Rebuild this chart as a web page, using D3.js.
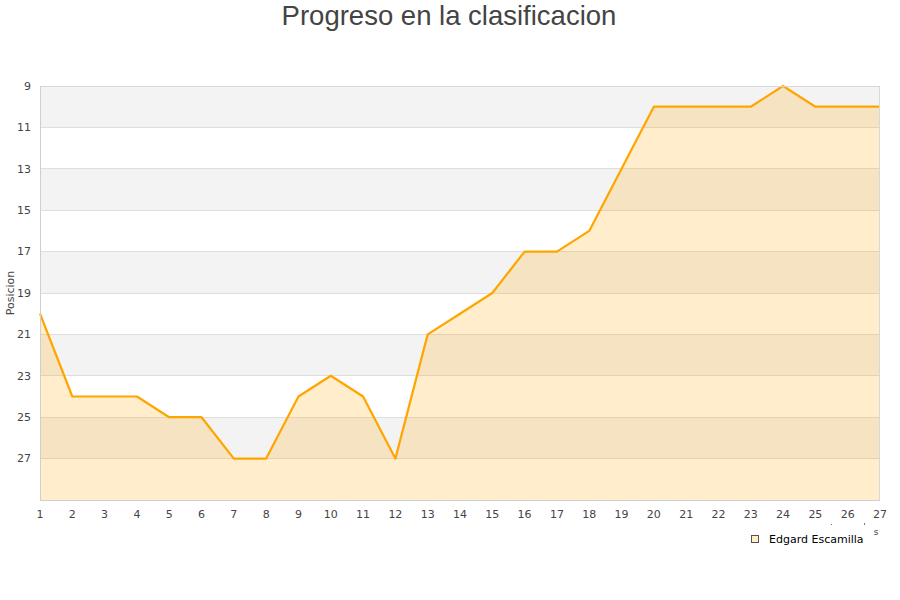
<!DOCTYPE html>
<html><head><meta charset="utf-8">
<script src="https://cdn.jsdelivr.net/npm/d3@7"></script>
<style>body{margin:0;background:#fff}svg{display:block}</style>
</head><body><svg id="c" width="900" height="600"></svg>
<script>
const jornadas = [1,2,3,4,5,6,7,8,9,10,11,12,13,14,15,16,17,18,19,20,21,22,23,24,25,26,27];
const posiciones = [20,24,24,24,25,25,27,27,24,23,24,27,21,20,19,17,17,16,13,10,10,10,10,9,10,10,10];
const yTicks = [9,11,13,15,17,19,21,23,25,27];
const seriesName = "Edgard Escamilla";
const title = "Progreso en la clasificacion";
const yTitle = "Posicion";

const svg = d3.select("#c");
const L = 40, R = 880, T = 86, B = 500;
const x = d3.scaleLinear().domain([1,27]).range([L,R]);
const y = d3.scaleLinear().domain([9,29]).range([T,B]);
const font = "'DejaVu Sans', sans-serif";

// bands
const bandStarts = [9,13,17,21,25];
svg.selectAll("rect.band").data(bandStarts).enter().append("rect")
  .attr("x", L).attr("width", R-L)
  .attr("y", d=>y(d)).attr("height", d=>y(d+2)-y(d))
  .attr("fill", "#f3f3f3");
// gridlines
svg.selectAll("line.grid").data(yTicks).enter().append("line")
  .attr("x1", L).attr("x2", R).attr("y1", d=>y(d)).attr("y2", d=>y(d))
  .attr("stroke", "#dedede").attr("stroke-width", 1).attr("shape-rendering","crispEdges");

// area
const data = jornadas.map((j,i)=>({j, p: posiciones[i]}));
svg.append("path").datum(data)
  .attr("d", d3.area().x(d=>x(d.j)).y0(y(29)).y1(d=>y(d.p)))
  .attr("fill", "rgb(255,165,0)").attr("fill-opacity", 0.2);
svg.append("path").datum(data)
  .attr("d", d3.line().x(d=>x(d.j)).y(d=>y(d.p)))
  .attr("fill", "none").attr("stroke", "#ffa500").attr("stroke-width", 2.2)
  .attr("stroke-linejoin","round");

// border
svg.append("rect").attr("x", L+0.5).attr("y", T+0.5).attr("width", R-L-1).attr("height", B-T)
  .attr("fill","none").attr("stroke","#d8d8d8").attr("stroke-width",1);
svg.append("line").attr("x1",L+0.5).attr("x2",L+0.5).attr("y1",T).attr("y2",B+0.5).attr("stroke","#cfcfcf");
svg.append("line").attr("x1",L).attr("x2",R).attr("y1",B+0.5).attr("y2",B+0.5).attr("stroke","#cfcfcf");

// y labels
svg.selectAll("text.yl").data(yTicks).enter().append("text")
  .attr("x", 31).attr("y", d=>y(d)).attr("dy","0.35em").attr("text-anchor","end")
  .attr("font-family", font).attr("font-size", 11).attr("fill","#444").text(d=>d);
// x labels
svg.selectAll("text.xl").data(jornadas).enter().append("text")
  .attr("x", d=>x(d)).attr("y", 518).attr("text-anchor","middle")
  .attr("font-family", font).attr("font-size", 11).attr("fill","#444").text(d=>d);

// y title
svg.append("text").attr("transform","translate(14,293) rotate(-90)")
  .attr("text-anchor","middle").attr("font-family", font).attr("font-size", 11).attr("fill","#444").text(yTitle);

// title
svg.append("text").attr("x", 449).attr("y", 25).attr("text-anchor","middle")
  .attr("font-family","'Liberation Sans', Arial, sans-serif").attr("font-size", 27.5).attr("fill","#444").text(title);

// clipped axis title remnant
svg.append("text").attr("x", 876).attr("y", 535).attr("text-anchor","middle")
  .attr("font-family", font).attr("font-size", 9).attr("fill","#444").text("s");
svg.append("rect").attr("x", 831).attr("y", 524).attr("width", 1).attr("height", 1).attr("fill","#777");
svg.append("rect").attr("x", 864).attr("y", 523).attr("width", 1).attr("height", 2).attr("fill","#777");

// legend
svg.append("rect").attr("x", 751.5).attr("y", 535.5).attr("width", 7).attr("height", 7)
  .attr("fill","#ffedcc").attr("stroke","#555").attr("stroke-width",1);
svg.append("text").attr("x", 769).attr("y", 543).attr("font-family", font).attr("font-size", 11)
  .attr("fill","#000").text(seriesName);
</script></body></html>
